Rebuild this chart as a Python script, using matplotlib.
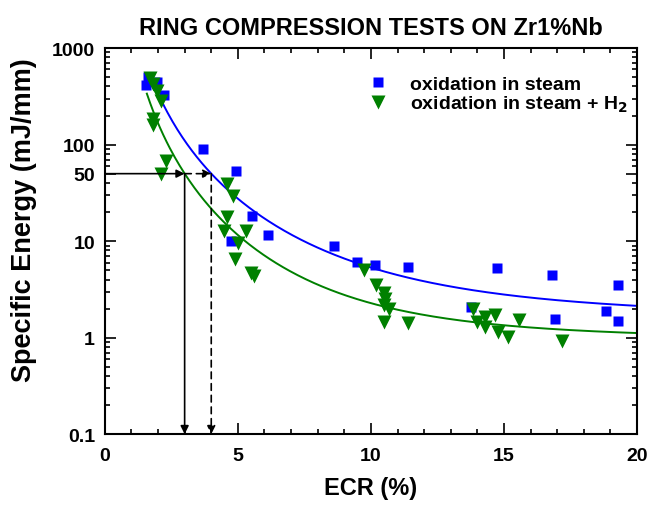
import numpy as np
import matplotlib as mpl
mpl.use('Agg')
import matplotlib.pyplot as plt
from matplotlib.ticker import MultipleLocator, FixedLocator, LogLocator, NullFormatter

plt.rcParams['font.family'] = ['Liberation Sans', 'DejaVu Sans']
plt.rcParams['font.weight'] = 'bold'

# oxidation in steam
ecr_steam = [1.54, 1.62, 1.95, 2.22, 3.68, 4.92, 5.53, 4.74, 6.13, 8.61,
             9.47, 10.15, 11.39, 14.74, 16.8, 19.3, 13.76, 16.9, 18.83, 19.29]
en_steam = [415, 500, 445, 327, 90, 53.5, 18.4, 10.1, 11.7, 9.0,
            6.1, 5.6, 5.45, 5.3, 4.5, 3.47, 2.1, 1.55, 1.9, 1.47]

# oxidation in steam + H2
ecr_h2 = [1.69, 1.80, 1.95, 2.10, 1.80, 1.80, 2.29, 2.10,
          4.59, 4.81, 4.59, 4.47, 5.30, 5.00, 4.89, 5.50, 5.60,
          9.74, 10.19, 10.49, 10.53, 10.49, 10.68, 10.49, 11.39,
          13.83, 13.98, 14.29, 14.29, 14.66, 14.77, 15.15, 15.56, 17.18]
en_h2 = [489, 424, 358, 282, 184, 159, 67, 49.5,
         39, 29, 17.7, 12.7, 12.7, 9.5, 6.5, 4.7, 4.4,
         5.0, 3.5, 2.9, 2.5, 2.17, 1.97, 1.45, 1.41,
         1.97, 1.45, 1.63, 1.28, 1.71, 1.14, 1.01, 1.52, 0.92]

# fit curves E = A * ECR^-n + C
fit_steam = (2350.0, 2.8, 1.6)
fit_h2 = (1327.0, 3.0, 0.95)

# ECR at 50 mJ/mm
e_limit = 50
ecr_lim_h2 = 3.0
ecr_lim_steam = 4.0

def fitcurve(x, p):
    a, n, c = p
    return a * x**(-n) + c

fig = plt.figure(figsize=(6.51, 5.06), dpi=100)
ax = fig.add_axes([0.161, 0.140, 0.8175, 0.763])

xs = np.linspace(1.75, 20, 300)
ax.plot(xs, fitcurve(xs, fit_steam), color='#0000ff', lw=1.4, zorder=2)
xg = np.linspace(1.58, 20, 300)
ax.plot(xg, fitcurve(xg, fit_h2), color='#008000', lw=1.4, zorder=2)

ax.plot(ecr_steam, en_steam, 's', color='#0000ff', ms=7.7, mec='none',
        label='oxidation in steam', zorder=3)
ax.plot(ecr_h2, en_h2, 'v', color='#008000', ms=9.5, mec='none',
        label='oxidation in steam + H$_2$', zorder=3)

# arrows at 50 mJ/mm
aprops = dict(arrowstyle='-|>', color='k', lw=1.2, mutation_scale=12,
              shrinkA=0, shrinkB=0)
dprops = dict(aprops, linestyle=(0, (4, 3)))
ax.annotate('', xy=(ecr_lim_h2, e_limit), xytext=(0, e_limit), arrowprops=aprops, zorder=4)
ax.annotate('', xy=(ecr_lim_steam, e_limit), xytext=(ecr_lim_h2, e_limit), arrowprops=dprops, zorder=4)
ax.annotate('', xy=(ecr_lim_h2, 0.1), xytext=(ecr_lim_h2, e_limit), arrowprops=aprops, zorder=4)
ax.annotate('', xy=(ecr_lim_steam, 0.1), xytext=(ecr_lim_steam, e_limit), arrowprops=dprops, zorder=4)

ax.set_yscale('log')
ax.set_xlim(0, 20)
ax.set_ylim(0.1, 1000)

ax.xaxis.set_major_locator(MultipleLocator(5))
ax.xaxis.set_minor_locator(MultipleLocator(1))
ax.yaxis.set_major_locator(FixedLocator([0.1, 1, 10, 50, 100, 1000]))
ax.yaxis.set_minor_locator(LogLocator(base=10, subs=np.arange(2, 10)))
ax.yaxis.set_minor_formatter(NullFormatter())
ax.set_yticklabels(['0.1', '1', '10', '50', '100', '1000'])

ax.tick_params(which='both', direction='in', top=True, right=True, labelsize=14, width=1.2)
ax.tick_params(axis='x', pad=9)
ax.tick_params(axis='y', pad=7)
ax.tick_params(which='major', length=8)
ax.tick_params(which='minor', length=3.5)
for sp in ax.spines.values():
    sp.set_linewidth(1.5)

ax.set_xlabel('ECR (%)', fontsize=17, fontweight='bold', labelpad=9)
ax.set_ylabel('Specific Energy (mJ/mm)', fontsize=19.5, fontweight='bold')
ax.yaxis.set_label_coords(-0.128, 0.557)
ax.set_title('RING COMPRESSION TESTS ON Zr1%Nb', fontsize=17, fontweight='bold', pad=10)

ax.legend(loc='upper right', bbox_to_anchor=(1.009, 0.965), frameon=False, fontsize=14,
          handletextpad=0.9, borderaxespad=0.3, labelspacing=0.05, handlelength=1.5)

plt.savefig('out.png', dpi=100)
plt.close(fig)
